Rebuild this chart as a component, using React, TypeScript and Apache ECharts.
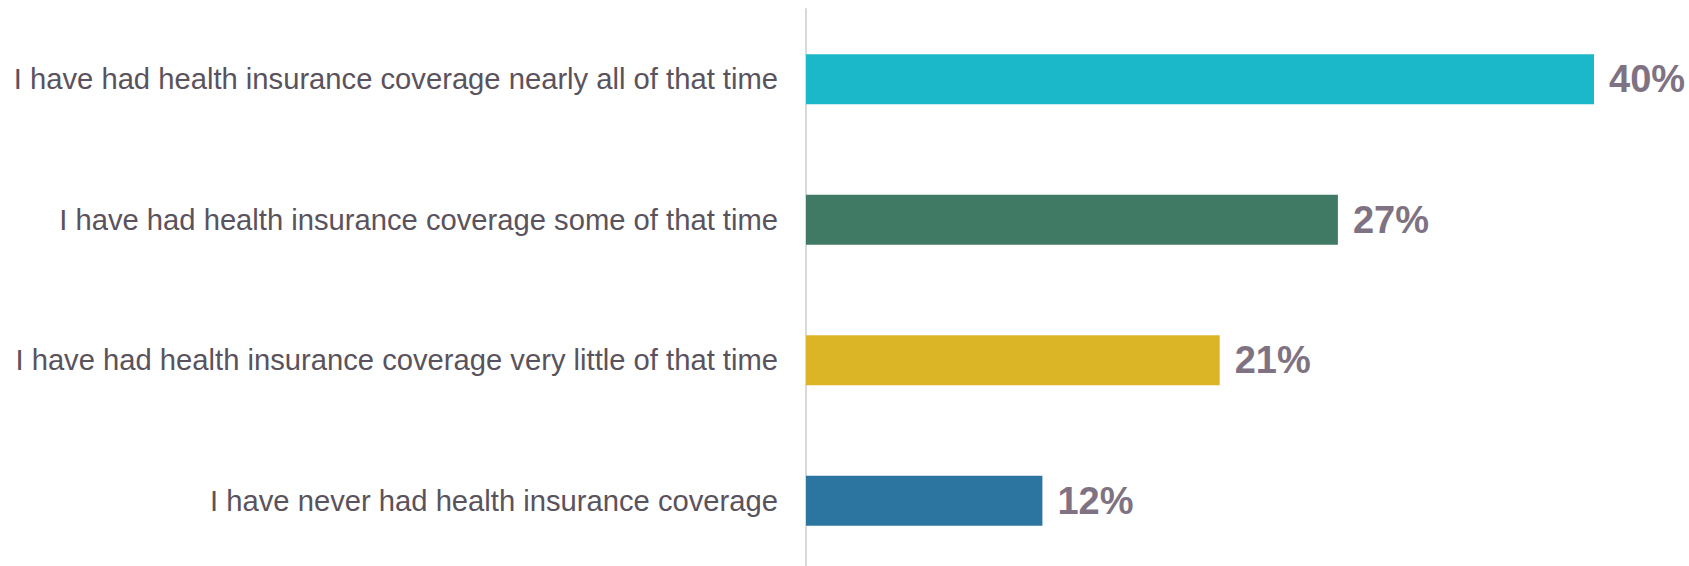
import React, { useEffect, useRef } from "react";
import * as echarts from "echarts";

const categories = [
  "I have had health insurance coverage nearly all of that time",
  "I have had health insurance coverage some of that time",
  "I have had health insurance coverage very little of that time",
  "I have never had health insurance coverage",
];
const values = [40, 27, 21, 12];
const barColors = ["#1bb8c9", "#417a64", "#dcb527", "#2d75a1"];

export default function App() {
  const ref = useRef<HTMLDivElement>(null);
  useEffect(() => {
    if (!ref.current) return;
    const chart = echarts.init(ref.current, null, { renderer: "svg" });
    chart.setOption({
      animation: false,
      backgroundColor: "#ffffff",
      grid: { left: 806, top: 9, width: 886.5, height: 562, containLabel: false },
      xAxis: {
        type: "value",
        min: 0,
        max: 45,
        show: false,
      },
      yAxis: {
        type: "category",
        data: categories,
        inverse: true,
        axisLine: { show: true, lineStyle: { color: "#d9d9d9", width: 2 } },
        axisTick: { show: false },
        splitLine: { show: false },
        axisLabel: {
          margin: 28,
          color: "#5a525c",
          fontSize: 29.2,
          fontFamily: "Liberation Sans, Arial, sans-serif",
        },
      },
      series: [
        {
          type: "bar",
          barWidth: 50,
          data: values.map((v, i) => ({ value: v, itemStyle: { color: barColors[i] } })),
          label: {
            show: true,
            position: "right",
            distance: 15,
            formatter: "{c}%",
            color: "#7f7383",
            fontSize: 38,
            fontWeight: "bold",
            fontFamily: "Liberation Sans, Arial, sans-serif",
          },
        },
      ],
    });
    return () => chart.dispose();
  }, []);
  return (
    <div
      ref={ref}
      style={{ position: "fixed", left: 0, top: 0, width: 1700, height: 580 }}
    />
  );
}
